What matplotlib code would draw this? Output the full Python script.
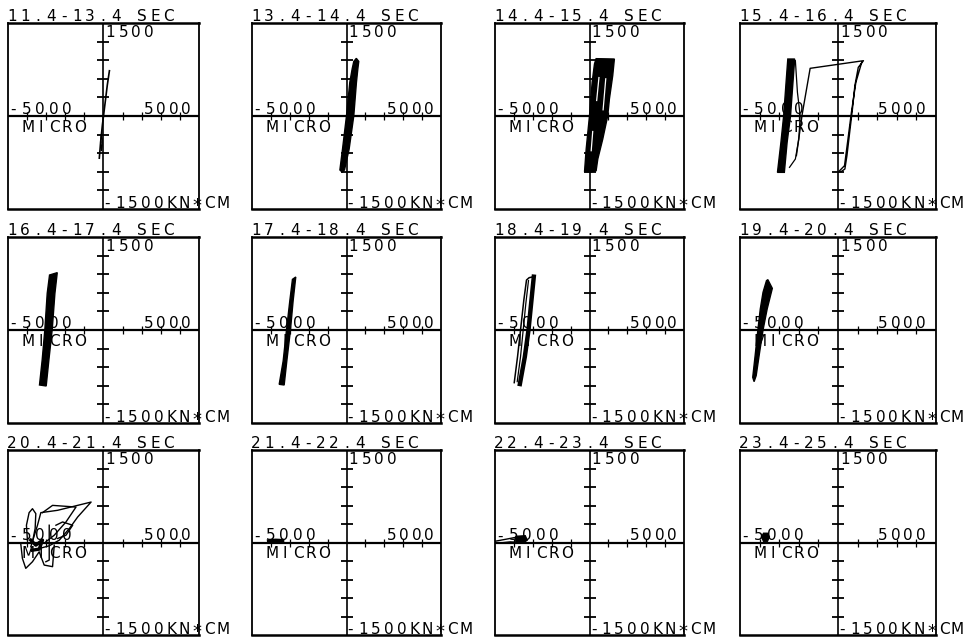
import matplotlib
matplotlib.use("Agg")
import matplotlib.pyplot as plt
import numpy as np

# ---------------------------------------------------------------------------
# Panel titles (time windows) and axis scale
# ---------------------------------------------------------------------------
titles = ["11.4-13.4 SEC", "13.4-14.4 SEC", "14.4-15.4 SEC", "15.4-16.4 SEC",
          "16.4-17.4 SEC", "17.4-18.4 SEC", "18.4-19.4 SEC", "19.4-20.4 SEC",
          "20.4-21.4 SEC", "21.4-22.4 SEC", "22.4-23.4 SEC", "23.4-25.4 SEC"]
curv_limit = 5000      # MICRO
moment_limit = 1500    # KN*CM
y_ticks = [-1200, -900, -600, -300, 300, 600, 900, 1200]
x_ticks = [-4000, -3000, -2000, -1000, 1000, 2000, 3000, 4000]

# ---------------------------------------------------------------------------
# Moment-curvature traces (curvature in micro, moment in kN*cm)
# ---------------------------------------------------------------------------
# 11.4-13.4 s: thin elastic line
p1_line_x = [-220, -150, -60, 0, 120, 200, 310]
p1_line_y = [-680, -420, -150, 0, 300, 500, 730]
p1_loop_x = [-150, -110, -70, -60, -120, -150]
p1_loop_y = [-420, -560, -480, -380, -300, -420]

# 13.4-14.4 s: dense narrow band
p2_band_x = [520, 649, 600, 526, 386, 140, -105, -230, -350, -210, 0, 175, 300, 386]
p2_band_y = [930, 880, 760, 543, 5, -532, -870, -905, -870, -532, 5, 543, 760, 880]

# 14.4-15.4 s: wider dense band
p3_band_x = [1316, 1228, 1053, 965, 702, 439, 351, 50, -263, -175, 0, 140, 263, 350]
p3_band_y = [919, 650, 274, 5, -371, -694, -882, -905, -898, -532, 5, 543, 839, 925]
p3_gap1_x = [860, 720]
p3_gap1_y = [600, 100]
p3_gap2_x = [500, 380]
p3_gap2_y = [620, 250]
p3_gap3_x = [170, 90]
p3_gap3_y = [-250, -560]

# 15.4-16.4 s: large excursion and shifted band
p4_band_x = [-2211, -2298, -2421, -2596, -2737, -3088, -2912, -2772, -2649, -2561]
p4_band_y = [919, 543, 5, -425, -909, -909, -425, 5, 543, 919]
p4_inner_x = [-2175, -2070, -1930, -2000, -2175, -2474]
p4_inner_y = [892, 382, 5, -371, -694, -828]
p4_loop_x = [-2123, -1825, -1421, 1298, 1035, 860, 737, 596, 456, 351, 158, 35,
             333, 509, 684, 912, 1211]
p4_loop_y = [-640, 32, 769, 892, 785, 489, 113, -263, -640, -855, -898, -898,
             -801, -371, 59, 543, 866]

# 16.4-17.4 s
p5_band_x = [-2421, -2544, -2684, -2860, -3000, -3351, -3211, -3070, -2947, -2825]
p5_band_y = [925, 591, 11, -484, -903, -887, -484, 11, 591, 887]

# 17.4-18.4 s
p6_band_x = [-2684, -2825, -2965, -3158, -3298, -3561, -3351, -3175, -3000, -2860]
p6_band_y = [855, 468, 0, -500, -887, -876, -500, 0, 468, 817]

# 18.4-19.4 s
p7_outer_x = [-3982, -3807, -3649, -3474, -3333, -3193, -2947]
p7_outer_y = [-849, -430, 0, 484, 806, 844, 860]
p7_inner_x = [-3825, -3649, -3509, -3368, -3228]
p7_inner_y = [-833, -430, 0, 430, 796]
p7_edge_x = [-2947, -3070, -3228, -3421, -3684]
p7_edge_y = [860, 484, 0, -430, -871]

# 19.4-20.4 s
p8_band_x = [-3579, -3351, -3614, -3825, -4000, -4175, -4281, -4351, -4228, -4088,
             -3965, -3825, -3649]
p8_band_y = [812, 672, 339, 0, -360, -737, -833, -763, -414, 0, 339, 608, 796]

# 20.4-21.4 s: tangled low-amplitude loops
p9_a_x = [-3807, -3456, -3281, -2404, -649, -1351, -1789, -2316, -2842, -3368]
p9_a_y = [-70, 280, 484, 522, 656, 414, 226, 38, -54, -97]
p9_b_x = [-3193, -2667, -1439, -1965, -2579, -3018]
p9_b_y = [484, 602, 575, 333, 118, 11]
p9_c_x = [-3982, -4035, -3895, -3719, -3544, -3579, -3719]
p9_c_y = [38, 280, 484, 548, 468, 226, 11]
p9_d_x = [-2842, -2842, -3018]
p9_d_y = [280, -285, -312]
p9_e_x = [-4333, -4246, -4070, -3719, -3368, -3105, -2667, -2579]
p9_e_y = [-16, -258, -419, -312, -151, -366, -392, -43]
p9_f_x = [-3807, -3544, -3193, -3368, -3719]
p9_f_y = [38, -43, 38, -108, -124]
p9_g_x = [-2491, -2140, -1614, -1965, -2404]
p9_g_y = [280, 333, 280, 118, 65]

# 21.4-22.4 s
p10_x = [-4100, -3750, -3400]
p10_y = [20, 30, 25]

# 22.4-23.4 s
p11_line_x = [-5000, -4300, -3800, -3400, -3300, -3600, -4200, -4800]
p11_line_y = [20, 60, 90, 80, 40, 0, 10, -10]
p11_blob_x = [-3900, -3400, -3300, -3500, -3900]
p11_blob_y = [100, 110, 40, -10, 20]

# 23.4-25.4 s
p12_blob_x = [-3900, -3800, -3600, -3500, -3600, -3800]
p12_blob_y = [90, 150, 150, 90, 20, 20]

# ---------------------------------------------------------------------------
# Layout (pixels in a 977 x 642 canvas)
# ---------------------------------------------------------------------------
W, H = 977, 642
col_left = [8, 252, 495, 740]
col_right = [199, 441, 684, 936]
row_top = [23, 237, 450]
row_bottom = [209, 423, 635]

FONT = dict(family="DejaVu Sans", color="black")
TEXT_SIZE = 11

fig = plt.figure(figsize=(W / 100, H / 100), dpi=100)
fig.patch.set_facecolor("white")


def spaced(ax, text, ref, dx, dy, step):
    """Write text one glyph at a time with plotter-style fixed spacing."""
    for i, ch in enumerate(text):
        if ch == " ":
            continue
        size, lift = (13, -3) if ch == "*" else (TEXT_SIZE, 0)
        ax.annotate(ch, xy=ref, xycoords="axes fraction",
                    xytext=(dx + i * step, dy + lift), textcoords="offset pixels",
                    ha="center", va="baseline", annotation_clip=False,
                    fontsize=size, **FONT)


def frame(ax, title):
    ax.set_xlim(-curv_limit, curv_limit)
    ax.set_ylim(-moment_limit, moment_limit)
    ax.set_xticks([])
    ax.set_yticks([])
    for sp in ax.spines.values():
        sp.set_linewidth(1.3)
        sp.set_color("black")
    ax.spines["top"].set_linewidth(1.8)
    ax.spines["bottom"].set_linewidth(1.8)
    ax.axhline(0, color="black", lw=1.6, zorder=1)
    ax.axvline(0, color="black", lw=1.2, zorder=1)
    ax.plot(np.zeros(len(y_ticks)), y_ticks, ls="none", marker="_", ms=9,
            mew=1.3, color="black", zorder=1)
    ax.plot(x_ticks, np.zeros(len(x_ticks)), ls="none", marker="|", ms=6,
            mew=0.9, color="black", zorder=1)
    spaced(ax, title, (0, 1), 4, 2, 13.0)
    spaced(ax, "1500", (0.5, 1), 7, -14, 12.7)
    spaced(ax, "-5000", (0, 0.5), 5, 2, 13.5)
    spaced(ax, "MICRO", (0, 0.5), 20, -16, 13.0)
    spaced(ax, "5000", (0.5, 0.5), 45, 2, 12.5)
    spaced(ax, "-1500KN*CM", (0.5, 0), 4, 1, 12.8)


def line(ax, x, y, lw=1.0, color="black"):
    ax.plot(x, y, color=color, lw=lw, solid_joinstyle="round", zorder=3)


def band(ax, x, y):
    ax.fill(x, y, color="black", lw=1.0, ec="black", zorder=3)


axes = []
for r in range(3):
    for c in range(4):
        l, rr = col_left[c], col_right[c]
        t, b = row_top[r], row_bottom[r]
        ax = fig.add_axes([l / W, 1 - b / H, (rr - l) / W, (b - t) / H])
        ax.set_facecolor("none")
        frame(ax, titles[r * 4 + c])
        axes.append(ax)

# 11.4-13.4
line(axes[0], p1_line_x, p1_line_y, lw=1.2)
line(axes[0], p1_loop_x, p1_loop_y, lw=0.9)
# 13.4-14.4
band(axes[1], p2_band_x, p2_band_y)
# 14.4-15.4
band(axes[2], p3_band_x, p3_band_y)
for gx, gy in [(p3_gap1_x, p3_gap1_y), (p3_gap2_x, p3_gap2_y), (p3_gap3_x, p3_gap3_y)]:
    line(axes[2], gx, gy, lw=0.9, color="white")
# 15.4-16.4
band(axes[3], p4_band_x, p4_band_y)
line(axes[3], p4_inner_x, p4_inner_y, lw=0.9)
line(axes[3], p4_loop_x, p4_loop_y, lw=1.0)
# 16.4-17.4
band(axes[4], p5_band_x, p5_band_y)
# 17.4-18.4
band(axes[5], p6_band_x, p6_band_y)
# 18.4-19.4
line(axes[6], p7_outer_x, p7_outer_y, lw=1.1)
line(axes[6], p7_inner_x, p7_inner_y, lw=0.9)
line(axes[6], p7_edge_x, p7_edge_y, lw=3.2)
# 19.4-20.4
band(axes[7], p8_band_x, p8_band_y)
# 20.4-21.4
for px, py in [(p9_a_x, p9_a_y), (p9_b_x, p9_b_y), (p9_c_x, p9_c_y),
               (p9_d_x, p9_d_y), (p9_e_x, p9_e_y), (p9_g_x, p9_g_y)]:
    line(axes[8], px, py, lw=1.0)
line(axes[8], p9_f_x, p9_f_y, lw=2.4)
# 21.4-22.4
line(axes[9], p10_x, p10_y, lw=3.0)
# 22.4-23.4
line(axes[10], p11_line_x, p11_line_y, lw=1.0)
band(axes[10], p11_blob_x, p11_blob_y)
# 23.4-25.4
band(axes[11], p12_blob_x, p12_blob_y)

fig.savefig("out.png", dpi=100, facecolor="white")
